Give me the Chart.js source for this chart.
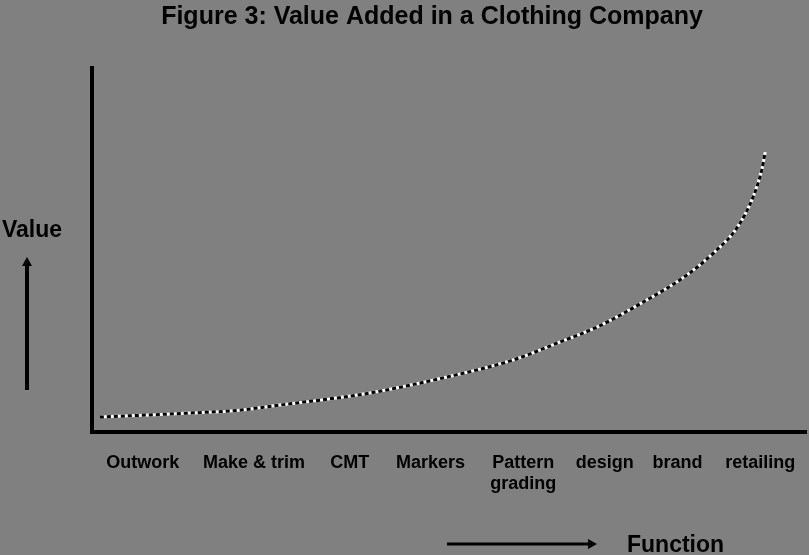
<!DOCTYPE html>
<html>
<head>
<meta charset="utf-8">
<script src="https://cdn.jsdelivr.net/npm/chart.js@4"></script>
<style>
  html, body { margin: 0; padding: 0; background: #808080; }
  #wrap { width: 809px; height: 555px; position: relative; }
</style>
</head>
<body>
<div id="wrap"><canvas id="valueChart"></canvas></div>
<script>
// --- data ---
const functionLabels = ["Outwork", "Make & trim", "CMT", "Markers", ["Pattern", "grading"], "design", "brand", "retailing"];
const functionPos = [7.1, 22.7, 36.1, 47.4, 60.4, 71.8, 82.0, 93.6];
const curveX = [1.1, 8.1, 13.7, 20.7, 26.3, 33.3, 38.9, 49.7, 59.0, 65.5, 70.7, 77.2, 83.3, 87.5, 90.3, 92.6, 93.8, 94.3];
const curveY = [4.1, 4.7, 5.2, 6.0, 7.4, 9.1, 10.7, 15.1, 19.8, 24.7, 28.8, 35.7, 43.1, 50.0, 56.0, 64.6, 72.0, 77.0];

const points = curveX.map((x, i) => ({ x: x, y: curveY[i] }));
const FONT = '"Liberation Sans", Arial, sans-serif';

// title, side captions and arrows
const decorations = {
    id: 'decorations',
    afterDraw(chart) {
        const c = chart.ctx;
        c.save();
        c.fillStyle = '#000';
        c.strokeStyle = '#000';
        c.textBaseline = 'alphabetic';

        c.font = 'bold 25px ' + FONT;
        c.textAlign = 'center';
        c.fillText('Figure 3: Value Added in a Clothing Company', 432, 24);

        c.font = 'bold 23px ' + FONT;
        c.textAlign = 'left';
        c.fillText('Value', 2, 237);
        c.fillText('Function', 627, 552);

        // up arrow
        c.lineWidth = 4;
        c.beginPath();
        c.moveTo(27, 390);
        c.lineTo(27, 264);
        c.stroke();
        c.beginPath();
        c.moveTo(27, 257);
        c.lineTo(22, 266);
        c.lineTo(32, 266);
        c.closePath();
        c.fill();

        // right arrow
        c.lineWidth = 3;
        c.beginPath();
        c.moveTo(447, 544);
        c.lineTo(590, 544);
        c.stroke();
        c.beginPath();
        c.moveTo(597, 544);
        c.lineTo(588, 539);
        c.lineTo(588, 549);
        c.closePath();
        c.fill();
        c.restore();
    }
};

new Chart(document.getElementById('valueChart').getContext('2d'), {
    type: 'line',
    data: {
        datasets: [
            {
                // black dashes on top
                data: points,
                borderColor: '#000000',
                borderWidth: 3,
                borderDash: [4, 3],
                pointRadius: 0,
                cubicInterpolationMode: 'monotone',
                fill: false
            },
            {
                data: points,
                borderColor: '#ffffff',
                borderWidth: 3,
                pointRadius: 0,
                cubicInterpolationMode: 'monotone',
                fill: false
            }
        ]
    },
    options: {
        responsive: true,
        maintainAspectRatio: false,
        animation: false,
        layout: { padding: { left: 92, right: 3, top: 68, bottom: 0 } },
        plugins: {
            legend: { display: false },
            title: { display: false },
            tooltip: { enabled: false }
        },
        scales: {
            x: {
                type: 'linear',
                min: 0,
                max: 100,
                afterFit: s => { s.height = 123; s.paddingLeft = 0; s.paddingRight = 0; },
                afterBuildTicks: s => { s.ticks = functionPos.map(v => ({ value: v })); },
                grid: { display: false, drawTicks: false },
                border: { display: true, color: '#000', width: 4 },
                ticks: {
                    autoSkip: false,
                    maxRotation: 0,
                    padding: 21,
                    color: '#000',
                    font: { family: FONT, size: 18, weight: 'bold', lineHeight: 1.15 },
                    callback: (v, i) => functionLabels[i]
                }
            },
            y: {
                type: 'linear',
                min: 0,
                max: 100,
                afterFit: s => { s.width = 0; s.paddingTop = 0; s.paddingBottom = 0; },
                grid: { display: false, drawTicks: false },
                border: { display: true, color: '#000', width: 4 },
                ticks: { display: false }
            }
        }
    },
    plugins: [decorations]
});
</script>
</body>
</html>
